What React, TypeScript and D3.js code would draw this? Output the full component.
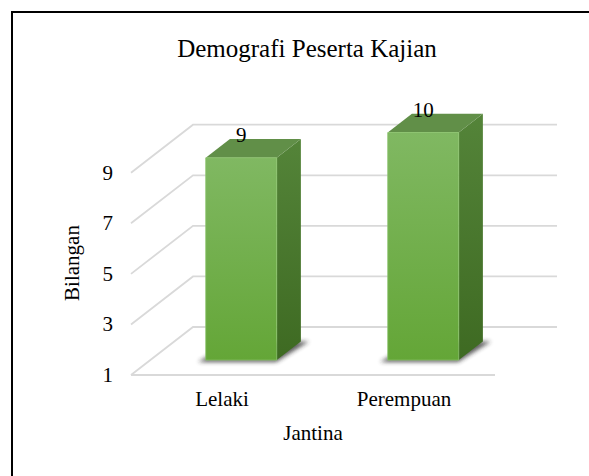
import * as d3 from "d3";

// chart values
const categories = ["Lelaki", "Perempuan"];
const values = [9, 10];
const yTicks = [1, 3, 5, 7, 9];

const title = "Demografi Peserta Kajian";
const xTitle = "Jantina";
const yTitle = "Bilangan";

const W = 589;
const H = 476;

// 3D look: how far the back wall sits from the front edge
const DX = 62;
const DY = 48;
const barFront = 0.31; // depth where a bar's front face sits
const barDepth = 0.39;
const barFrac = 0.39; // bar width as part of the band

const font = "'Liberation Serif', 'Times New Roman', serif";

export default function App() {
  const x = d3.scaleBand<string>().domain(categories).range([131, 495]);
  const y = d3.scaleLinear().domain([1, 9]).range([375, 172.7]);

  // project (x, value, depth) to the screen
  const pt = (px: number, v: number, d: number): [number, number] => [
    px + d * DX,
    y(v) - d * DY,
  ];
  const poly = (pts: [number, number][]) => d3.line()(pts)! + "Z";

  const bw = x.bandwidth() * barFrac;
  const base = y.domain()[0];

  return (
    <svg
      width={W}
      height={H}
      style={{ position: "fixed", left: 0, top: 0, display: "block", overflow: "hidden" }}
      fontFamily={font}
    >
      <defs>
        <linearGradient id="front" x1="0" y1="0" x2="0" y2="1">
          <stop offset="0" stopColor="#80b862" />
          <stop offset="1" stopColor="#64a637" />
        </linearGradient>
        <linearGradient id="side" x1="0" y1="0" x2="0" y2="1">
          <stop offset="0" stopColor="#548439" />
          <stop offset="1" stopColor="#3e6a22" />
        </linearGradient>
        <filter id="blur" x="-30%" y="-50%" width="160%" height="200%">
          <feGaussianBlur stdDeviation="2.2" />
        </filter>
      </defs>

      <rect width={W} height={H} fill="#fff" />

      {/* chart border, cut off at the right and bottom */}
      <line x1={11} x2={W} y1={12} y2={12} stroke="#000" strokeWidth={2} />
      <line x1={12} x2={12} y1={11} y2={H} stroke="#000" strokeWidth={2} />

      <text x={307} y={57} textAnchor="middle" fontSize={25}>
        {title}
      </text>

      {/* side wall and back wall gridlines */}
      <g stroke="#d9d9d9" strokeWidth={1.8} fill="none">
        {yTicks.map((t) => {
          const [x0, y0] = pt(x.range()[0], t, 0);
          const [x1, y1] = pt(x.range()[0], t, 1);
          const [x2, y2] = pt(x.range()[1], t, 1);
          return <path key={t} d={d3.line()([[x0, y0], [x1, y1], [x2, y2]])!} />;
        })}
        <line x1={x.range()[0]} x2={x.range()[1]} y1={y(base)} y2={y(base)} />
      </g>

      {/* y tick labels */}
      <g fontSize={21} textAnchor="end">
        {yTicks.map((t) => (
          <text key={t} x={113} y={y(t) + 7}>
            {t}
          </text>
        ))}
      </g>

      {/* bars */}
      {categories.map((c, i) => {
        const v = values[i];
        const x0 = x(c)! + (x.bandwidth() - bw) / 2;
        const x1 = x0 + bw;
        const d0 = barFront;
        const d1 = barFront + barDepth;
        const shadow = poly([
          pt(x0 - 5, base, d0 - 0.04),
          pt(x1 + 2, base, d0 - 0.04),
          pt(x1 + 8, base, d1),
          pt(x0 + 2, base, d1),
        ]);
        const front = poly([pt(x0, v, d0), pt(x1, v, d0), pt(x1, base, d0), pt(x0, base, d0)]);
        const side = poly([pt(x1, v, d0), pt(x1, v, d1), pt(x1, base, d1), pt(x1, base, d0)]);
        const top = poly([pt(x0, v, d0), pt(x1, v, d0), pt(x1, v, d1), pt(x0, v, d1)]);
        const [lx, ly] = pt((x0 + x1) / 2, v, d0);
        return (
          <g key={c}>
            <path d={shadow} fill="#2a2a2a" opacity={0.75} filter="url(#blur)" />
            <path d={side} fill="url(#side)" />
            <path d={top} fill="#618f48" />
            <path d={front} fill="url(#front)" stroke="#8cc46c" strokeWidth={0.8} />
            <text x={lx} y={ly - 16} textAnchor="middle" fontSize={21}>
              {v}
            </text>
          </g>
        );
      })}

      {/* category labels */}
      <g fontSize={21} textAnchor="middle">
        {categories.map((c) => (
          <text key={c} x={x(c)! + x.bandwidth() / 2} y={406}>
            {c}
          </text>
        ))}
      </g>

      <text x={313} y={440} textAnchor="middle" fontSize={21}>
        {xTitle}
      </text>
      <text
        transform={`translate(79,263) rotate(-90)`}
        textAnchor="middle"
        fontSize={21}
      >
        {yTitle}
      </text>
    </svg>
  );
}
